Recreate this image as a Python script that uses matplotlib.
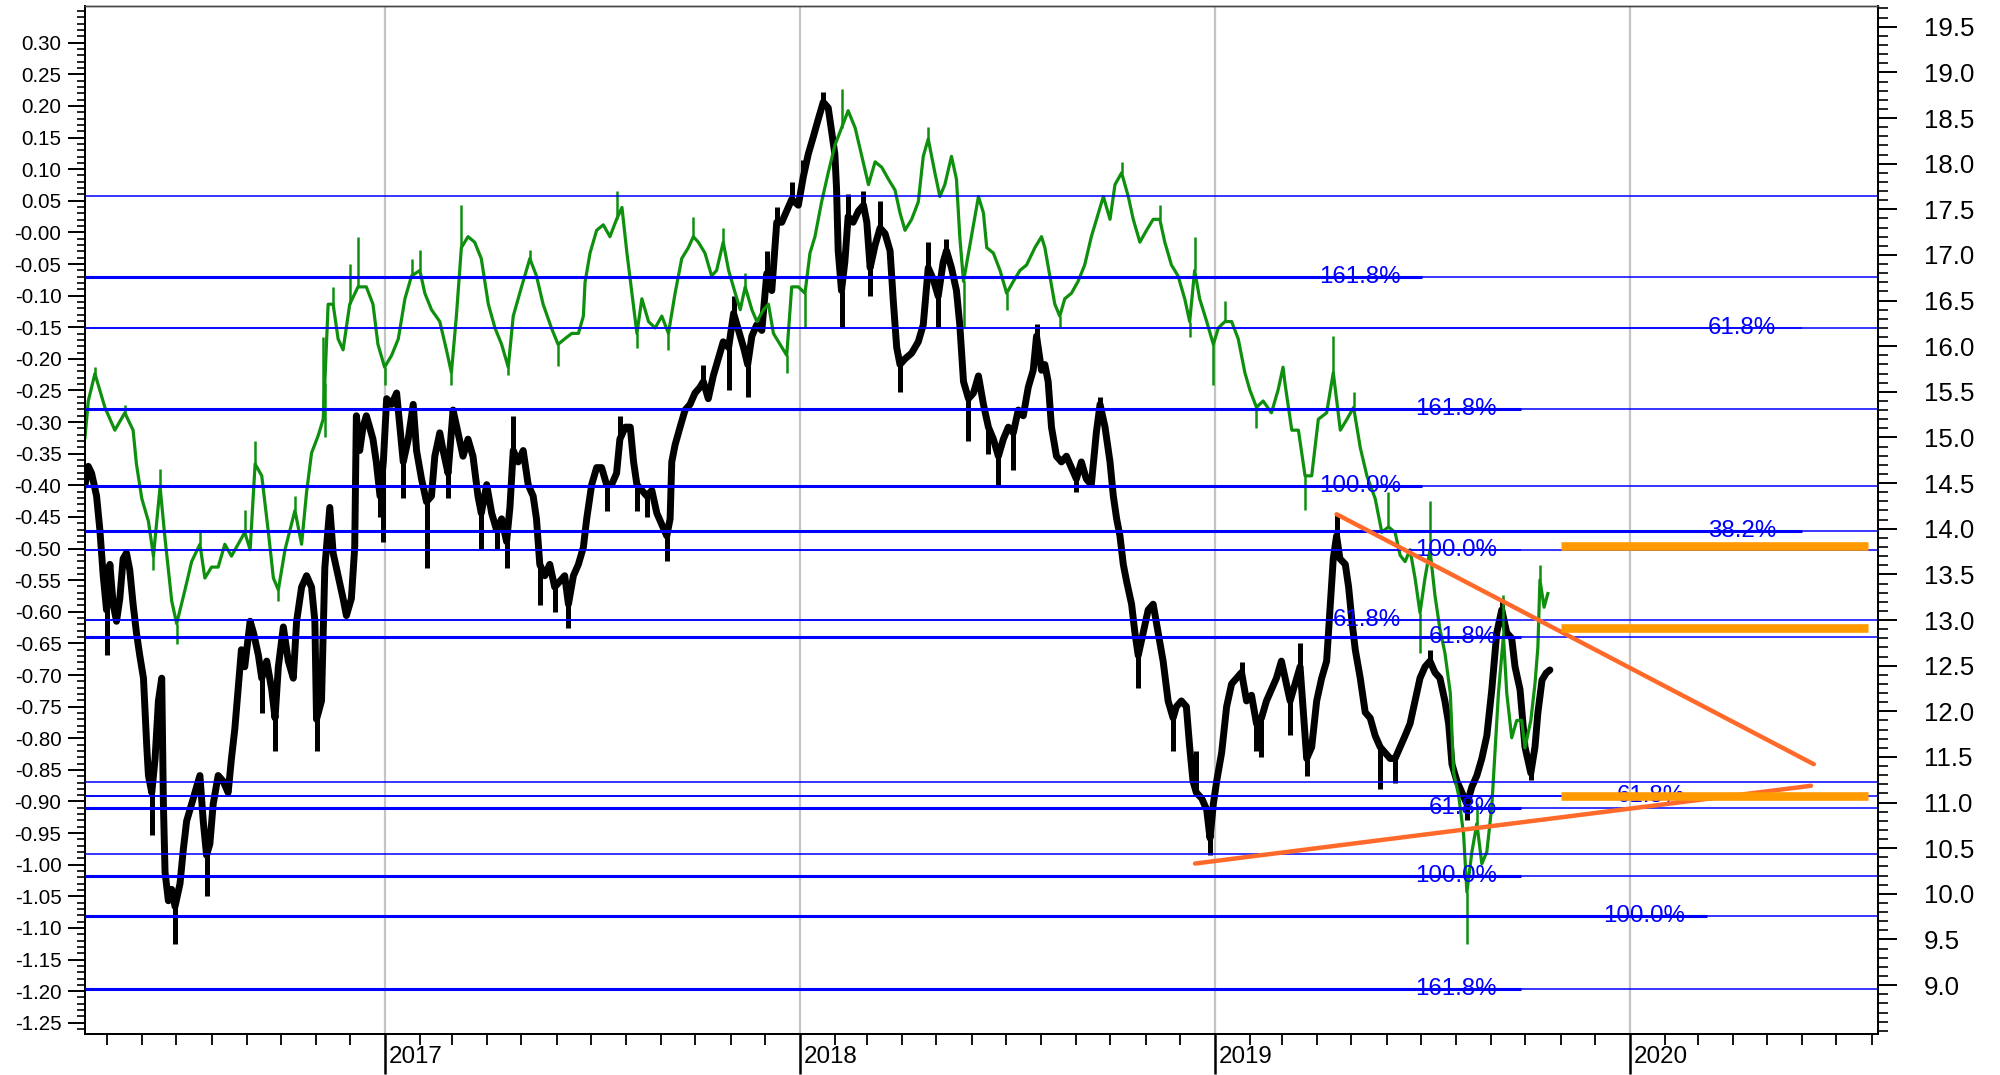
import datetime as dt
import numpy as np
import matplotlib
matplotlib.use("Agg")
import matplotlib.pyplot as plt
from matplotlib.ticker import FixedLocator, MultipleLocator, NullFormatter

plt.rcParams['font.family'] = ['Liberation Sans', 'DejaVu Sans']

# ---------------- data (time in decimal years) ----------------
# black series, left axis
black_t = [2016.277, 2016.285, 2016.293, 2016.305, 2016.313, 2016.321, 2016.329, 2016.337, 2016.345, 2016.353,
           2016.361, 2016.369, 2016.377, 2016.385, 2016.393, 2016.401, 2016.409, 2016.418, 2016.422, 2016.426,
           2016.430, 2016.438, 2016.446, 2016.454, 2016.462, 2016.466, 2016.470, 2016.478, 2016.486, 2016.494,
           2016.506, 2016.514, 2016.522, 2016.534, 2016.546, 2016.554, 2016.562, 2016.570, 2016.578, 2016.586,
           2016.598, 2016.610, 2016.622, 2016.630, 2016.638, 2016.646, 2016.654, 2016.662, 2016.675, 2016.683,
           2016.695, 2016.703, 2016.715, 2016.727, 2016.735, 2016.743, 2016.755, 2016.767, 2016.779, 2016.787,
           2016.799, 2016.811, 2016.823, 2016.831, 2016.835, 2016.847,
           2016.855, 2016.867, 2016.875, 2016.887, 2016.899, 2016.907, 2016.919, 2016.927, 2016.931, 2016.939,
           2016.947, 2016.955, 2016.963, 2016.971, 2016.979, 2016.988, 2016.996, 2017.004, 2017.016, 2017.028,
           2017.036, 2017.044, 2017.056, 2017.068, 2017.076, 2017.088, 2017.100, 2017.112, 2017.120, 2017.132,
           2017.140, 2017.152, 2017.164, 2017.176, 2017.188, 2017.200, 2017.212, 2017.224, 2017.232, 2017.245,
           2017.257, 2017.269, 2017.281, 2017.293, 2017.301, 2017.309, 2017.321, 2017.333, 2017.345, 2017.357,
           2017.365, 2017.373, 2017.385, 2017.397, 2017.409, 2017.421, 2017.433,
           2017.442, 2017.454, 2017.466, 2017.478, 2017.486, 2017.498, 2017.510, 2017.522, 2017.534, 2017.546,
           2017.558, 2017.566, 2017.579, 2017.591, 2017.599, 2017.607, 2017.619, 2017.631, 2017.643, 2017.655,
           2017.667, 2017.679, 2017.687, 2017.691, 2017.699, 2017.711, 2017.723, 2017.735, 2017.747, 2017.759,
           2017.767, 2017.779, 2017.791, 2017.803, 2017.815, 2017.828, 2017.840, 2017.852, 2017.864, 2017.874,
           2017.884, 2017.896, 2017.908, 2017.920, 2017.932, 2017.944, 2017.956, 2017.968, 2017.980, 2017.996,
           2018.008,
           2018.020, 2018.032, 2018.044, 2018.056, 2018.068, 2018.076, 2018.084, 2018.088, 2018.092, 2018.100,
           2018.108, 2018.116, 2018.128, 2018.141, 2018.153, 2018.161, 2018.169, 2018.181, 2018.193, 2018.205,
           2018.217, 2018.225, 2018.233, 2018.241, 2018.253, 2018.269, 2018.285, 2018.297, 2018.309, 2018.321,
           2018.333, 2018.345, 2018.353, 2018.365, 2018.377, 2018.385, 2018.394, 2018.406, 2018.418, 2018.430,
           2018.442, 2018.454, 2018.466, 2018.478, 2018.490, 2018.502, 2018.514, 2018.526, 2018.538, 2018.550,
           2018.562, 2018.570, 2018.582,
           2018.590, 2018.598, 2018.606, 2018.618, 2018.630, 2018.642, 2018.654, 2018.666, 2018.678, 2018.690,
           2018.702, 2018.714, 2018.723, 2018.735, 2018.747, 2018.755, 2018.763, 2018.771, 2018.779, 2018.787,
           2018.799, 2018.807, 2018.815, 2018.827, 2018.839, 2018.851, 2018.863, 2018.875, 2018.887, 2018.899,
           2018.907, 2018.919, 2018.931, 2018.939, 2018.947, 2018.955, 2018.968, 2018.980, 2018.988, 2018.996,
           2019.004, 2019.016, 2019.028, 2019.040, 2019.052, 2019.064, 2019.076, 2019.088, 2019.100, 2019.112,
           2019.124, 2019.136, 2019.148, 2019.160,
           2019.169, 2019.181, 2019.193, 2019.205, 2019.213, 2019.221, 2019.233, 2019.245, 2019.257, 2019.269,
           2019.277, 2019.285, 2019.293, 2019.301, 2019.314, 2019.322, 2019.330, 2019.338, 2019.350, 2019.362,
           2019.374, 2019.386, 2019.398, 2019.410, 2019.422, 2019.434, 2019.446, 2019.458, 2019.470, 2019.482,
           2019.494, 2019.506, 2019.518, 2019.530, 2019.542, 2019.554, 2019.563, 2019.571, 2019.583, 2019.595,
           2019.607, 2019.619, 2019.631, 2019.643, 2019.655, 2019.667, 2019.679, 2019.691, 2019.703, 2019.715,
           2019.723, 2019.735, 2019.747, 2019.761, 2019.771, 2019.778, 2019.788, 2019.798, 2019.807]
black_v = [-0.400, -0.370, -0.381, -0.417, -0.471, -0.543, -0.597, -0.525, -0.588, -0.615,
           -0.579, -0.516, -0.507, -0.534, -0.588, -0.633, -0.669, -0.705, -0.760, -0.814,
           -0.859, -0.886, -0.832, -0.741, -0.705, -0.904, -1.012, -1.057, -1.039, -1.066,
           -1.030, -0.976, -0.931, -0.904, -0.877, -0.859, -0.931, -0.985, -0.967, -0.904,
           -0.859, -0.868, -0.886, -0.832, -0.786, -0.723, -0.660, -0.687, -0.615, -0.633,
           -0.669, -0.705, -0.678, -0.723, -0.768, -0.687, -0.624, -0.678, -0.705, -0.615,
           -0.561, -0.543, -0.561, -0.615, -0.770, -0.741,
           -0.530, -0.435, -0.507, -0.543, -0.579, -0.606, -0.579, -0.498, -0.290, -0.345,
           -0.308, -0.290, -0.308, -0.327, -0.363, -0.417, -0.363, -0.263, -0.272, -0.254,
           -0.308, -0.363, -0.327, -0.272, -0.345, -0.390, -0.426, -0.417, -0.354, -0.317,
           -0.345, -0.381, -0.281, -0.317, -0.354, -0.327, -0.354, -0.417, -0.444, -0.399,
           -0.444, -0.471, -0.453, -0.489, -0.435, -0.345, -0.363, -0.345, -0.399, -0.417,
           -0.453, -0.525, -0.543, -0.525, -0.561, -0.552, -0.543,
           -0.588, -0.543, -0.525, -0.498, -0.453, -0.399, -0.372, -0.372, -0.399, -0.399,
           -0.381, -0.327, -0.308, -0.308, -0.363, -0.399, -0.408, -0.417, -0.408, -0.444,
           -0.462, -0.480, -0.453, -0.363, -0.336, -0.308, -0.281, -0.272, -0.254, -0.245,
           -0.236, -0.263, -0.227, -0.200, -0.173, -0.182, -0.128, -0.155, -0.182, -0.209,
           -0.164, -0.146, -0.155, -0.065, -0.092, 0.016, 0.016, 0.034, 0.052, 0.043,
           0.088,
           0.124, 0.151, 0.179, 0.206, 0.197, 0.161, 0.124, 0.070, -0.029, -0.092,
           -0.047, 0.025, 0.016, 0.034, 0.043, 0.016, -0.056, -0.020, 0.007, -0.002,
           -0.029, -0.110, -0.182, -0.209, -0.200, -0.191, -0.173, -0.146, -0.056, -0.074,
           -0.101, -0.047, -0.029, -0.056, -0.092, -0.146, -0.236, -0.263, -0.254, -0.227,
           -0.272, -0.308, -0.327, -0.354, -0.327, -0.308, -0.317, -0.281, -0.290, -0.245,
           -0.218, -0.164, -0.218,
           -0.209, -0.236, -0.308, -0.354, -0.363, -0.354, -0.372, -0.390, -0.363, -0.390,
           -0.399, -0.317, -0.272, -0.308, -0.363, -0.417, -0.453, -0.480, -0.525, -0.552,
           -0.588, -0.633, -0.669, -0.633, -0.597, -0.588, -0.633, -0.678, -0.741, -0.768,
           -0.750, -0.741, -0.750, -0.814, -0.868, -0.886, -0.895, -0.913, -0.958, -0.904,
           -0.868, -0.823, -0.750, -0.714, -0.705, -0.696, -0.741, -0.732, -0.777, -0.768,
           -0.741, -0.723, -0.705, -0.678,
           -0.705, -0.741, -0.714, -0.687, -0.759, -0.832, -0.814, -0.741, -0.705, -0.678,
           -0.597, -0.516, -0.480, -0.516, -0.525, -0.561, -0.615, -0.660, -0.705, -0.759,
           -0.768, -0.796, -0.814, -0.823, -0.832, -0.832, -0.814, -0.796, -0.777, -0.741,
           -0.705, -0.687, -0.678, -0.696, -0.705, -0.741, -0.777, -0.841, -0.868, -0.886,
           -0.904, -0.877, -0.859, -0.832, -0.796, -0.723, -0.633, -0.597, -0.633, -0.642,
           -0.687, -0.723, -0.814, -0.855, -0.814, -0.760, -0.708, -0.697, -0.692]
# black intraperiod extremes (time, value)
black_ext_t = [2016.329, 2016.438, 2016.494, 2016.570, 2016.703, 2016.735, 2016.835, 2016.988, 2016.996,
               2017.044, 2017.100, 2017.152, 2017.232, 2017.269, 2017.293, 2017.309, 2017.373, 2017.409,
               2017.442, 2017.534, 2017.566, 2017.607, 2017.631, 2017.679, 2017.687, 2017.767, 2017.828,
               2017.840, 2017.874, 2017.920, 2017.944, 2017.980, 2018.008, 2018.056, 2018.100, 2018.116,
               2018.153, 2018.169, 2018.193, 2018.241, 2018.309, 2018.333, 2018.353, 2018.385, 2018.406,
               2018.454, 2018.478, 2018.514, 2018.570, 2018.666, 2018.723, 2018.771, 2018.799, 2018.815,
               2018.899, 2018.955, 2018.988, 2019.064, 2019.100, 2019.112, 2019.181, 2019.205, 2019.221,
               2019.293, 2019.398, 2019.434, 2019.518, 2019.607, 2019.691, 2019.761]
black_ext_v = [-0.669, -0.953, -1.125, -1.050, -0.760, -0.820, -0.820, -0.450, -0.490,
               -0.420, -0.530, -0.420, -0.500, -0.500, -0.530, -0.290, -0.590, -0.600,
               -0.625, -0.440, -0.290, -0.440, -0.450, -0.520, -0.420, -0.210, -0.250,
               -0.100, -0.260, -0.030, 0.040, 0.080, 0.115, 0.222, -0.150, 0.060,
               0.065, -0.100, 0.050, -0.253, -0.015, -0.150, -0.010, -0.180, -0.330,
               -0.350, -0.400, -0.375, -0.145, -0.410, -0.260, -0.500, -0.610, -0.720,
               -0.820, -0.820, -0.985, -0.680, -0.820, -0.830, -0.795, -0.650, -0.860,
               -0.445, -0.880, -0.870, -0.660, -0.930, -0.580, -0.866]

# green series, right axis
green_t = [2016.277, 2016.285, 2016.301, 2016.325, 2016.349, 2016.373, 2016.393, 2016.401, 2016.414, 2016.430,
           2016.442, 2016.458, 2016.470, 2016.486, 2016.498, 2016.518, 2016.534, 2016.554, 2016.566, 2016.582,
           2016.598, 2016.614, 2016.630, 2016.646, 2016.662, 2016.675, 2016.687, 2016.703, 2016.719, 2016.731,
           2016.743, 2016.759, 2016.783, 2016.799, 2016.811, 2016.823, 2016.839, 2016.851,
           2016.855, 2016.863, 2016.875, 2016.887, 2016.899, 2016.915, 2016.935, 2016.955, 2016.971, 2016.983,
           2016.999, 2017.016, 2017.032, 2017.048, 2017.064, 2017.084, 2017.096, 2017.112, 2017.132, 2017.148,
           2017.160, 2017.172, 2017.184, 2017.200, 2017.216, 2017.232, 2017.249, 2017.265, 2017.281, 2017.297,
           2017.309, 2017.329, 2017.349, 2017.365, 2017.381, 2017.401, 2017.417, 2017.433,
           2017.450, 2017.466, 2017.478, 2017.482, 2017.494, 2017.510, 2017.526, 2017.542, 2017.558, 2017.571,
           2017.583, 2017.595, 2017.607, 2017.619, 2017.635, 2017.651, 2017.667, 2017.683, 2017.699, 2017.715,
           2017.731, 2017.743, 2017.755, 2017.771, 2017.787, 2017.799, 2017.815, 2017.828, 2017.844, 2017.856,
           2017.868, 2017.884, 2017.896, 2017.912, 2017.924, 2017.936, 2017.952, 2017.968, 2017.980, 2017.996,
           2018.012,
           2018.024, 2018.036, 2018.052, 2018.068, 2018.084, 2018.100, 2018.116, 2018.133, 2018.149, 2018.165,
           2018.181, 2018.197, 2018.213, 2018.229, 2018.241, 2018.253, 2018.269, 2018.285, 2018.297, 2018.309,
           2018.325, 2018.337, 2018.349, 2018.365, 2018.377, 2018.385, 2018.394, 2018.406, 2018.418, 2018.430,
           2018.442, 2018.450, 2018.466, 2018.482, 2018.498, 2018.514, 2018.530, 2018.546, 2018.566, 2018.582,
           2018.590, 2018.602, 2018.614, 2018.626, 2018.638, 2018.654, 2018.670, 2018.686, 2018.702, 2018.719,
           2018.731, 2018.747, 2018.759, 2018.775, 2018.791, 2018.803, 2018.819, 2018.835, 2018.851, 2018.867,
           2018.879, 2018.895, 2018.911, 2018.927, 2018.939, 2018.951, 2018.963, 2018.980, 2018.996, 2019.008,
           2019.024, 2019.040, 2019.056, 2019.072, 2019.084, 2019.100, 2019.116, 2019.136, 2019.152, 2019.164,
           2019.169, 2019.185, 2019.201, 2019.217, 2019.233, 2019.249, 2019.269, 2019.285, 2019.302, 2019.318,
           2019.334, 2019.350, 2019.366, 2019.386, 2019.402, 2019.418, 2019.434, 2019.446, 2019.458, 2019.470,
           2019.482, 2019.494, 2019.506, 2019.518, 2019.530, 2019.542, 2019.554, 2019.567, 2019.575, 2019.587,
           2019.599, 2019.607, 2019.619, 2019.631, 2019.643, 2019.655, 2019.667, 2019.675, 2019.683, 2019.695,
           2019.703, 2019.715, 2019.727, 2019.739, 2019.747, 2019.761, 2019.771, 2019.778, 2019.783, 2019.793,
           2019.802]
green_v = [15.00, 15.40, 15.70, 15.33, 15.08, 15.27, 15.08, 14.71, 14.33, 14.08,
           13.70, 14.46, 13.89, 13.21, 12.96, 13.33, 13.64, 13.83, 13.46, 13.58,
           13.58, 13.83, 13.70, 13.83, 13.96, 13.77, 14.71, 14.58, 13.96, 13.46,
           13.33, 13.77, 14.20, 13.83, 14.40, 14.83, 15.02, 15.20,
           15.60, 16.46, 16.46, 16.08, 15.96, 16.46, 16.65, 16.65, 16.46, 16.02,
           15.77, 15.90, 16.08, 16.52, 16.77, 16.83, 16.58, 16.40, 16.27, 15.96,
           15.71, 16.33, 17.08, 17.20, 17.14, 16.96, 16.46, 16.20, 16.02, 15.77,
           16.33, 16.65, 16.96, 16.77, 16.46, 16.20, 16.02, 16.08,
           16.14, 16.14, 16.33, 16.70, 17.02, 17.27, 17.33, 17.20, 17.39, 17.52,
           17.02, 16.58, 16.14, 16.52, 16.27, 16.20, 16.33, 16.14, 16.58, 16.96,
           17.08, 17.20, 17.14, 17.02, 16.77, 16.83, 17.14, 16.83, 16.58, 16.40,
           16.65, 16.40, 16.27, 16.40, 16.46, 16.14, 16.02, 15.90, 16.65, 16.65,
           16.58,
           17.02, 17.20, 17.58, 17.90, 18.20, 18.39, 18.58, 18.39, 18.08, 17.77,
           18.02, 17.96, 17.83, 17.71, 17.46, 17.27, 17.39, 17.58, 18.08, 18.27,
           17.90, 17.64, 17.77, 18.08, 17.83, 17.20, 16.71, 17.02, 17.33, 17.64,
           17.46, 17.08, 17.02, 16.83, 16.58, 16.71, 16.83, 16.89, 17.08, 17.20,
           17.08, 16.77, 16.46, 16.33, 16.52, 16.58, 16.71, 16.89, 17.20, 17.46,
           17.64, 17.39, 17.77, 17.90, 17.64, 17.39, 17.14, 17.27, 17.39, 17.39,
           17.14, 16.89, 16.77, 16.52, 16.27, 16.83, 16.52, 16.27, 16.02, 16.20,
           16.27, 16.27, 16.08, 15.71, 15.52, 15.33, 15.40, 15.27, 15.52, 15.77,
           15.58, 15.08, 15.08, 14.58, 14.58, 15.20, 15.27, 15.71, 15.08, 15.20,
           15.33, 14.89, 14.58, 14.33, 13.96, 14.02, 13.96, 13.71, 13.64, 13.77,
           13.46, 13.08, 13.46, 13.77, 13.27, 12.90, 12.64, 12.20, 11.33, 11.08,
           10.65, 10.02, 10.46, 10.77, 10.33, 10.46, 10.96, 11.58, 12.20, 12.83,
           12.20, 11.71, 11.90, 11.90, 11.60, 11.90, 12.30, 12.70, 13.44, 13.14,
           13.29]
green_ext_t = [2016.301, 2016.373, 2016.442, 2016.458, 2016.498, 2016.554, 2016.662, 2016.687, 2016.743,
               2016.783, 2016.851, 2016.855, 2016.875, 2016.915, 2016.935, 2016.999, 2017.064, 2017.084,
               2017.160, 2017.184, 2017.297, 2017.349, 2017.417, 2017.558, 2017.607, 2017.683, 2017.743,
               2017.815, 2017.868, 2017.968, 2018.012, 2018.100, 2018.309, 2018.394, 2018.498, 2018.626,
               2018.775, 2018.867, 2018.939, 2018.951, 2018.996, 2019.024, 2019.100, 2019.217, 2019.285,
               2019.334, 2019.418, 2019.494, 2019.518, 2019.607, 2019.631, 2019.695, 2019.783]
green_ext_v = [15.77, 15.36, 13.55, 14.65, 12.74, 13.98, 14.20, 14.96, 13.21,
               14.36, 16.10, 15.00, 16.65, 16.90, 17.20, 15.58, 16.96, 17.05,
               15.58, 17.55, 15.68, 17.05, 15.78, 17.70, 15.98, 15.96, 17.42,
               17.30, 16.80, 15.71, 16.20, 18.82, 18.40, 16.20, 16.40, 16.20,
               18.02, 17.55, 16.10, 17.20, 15.58, 16.50, 15.10, 14.20, 16.11,
               15.50, 14.40, 12.64, 14.30, 9.45, 11.00, 13.27, 13.60]

# horizontal levels (right-axis units)
level_values = [17.645, 16.761, 16.201, 15.307, 14.468, 13.979, 13.770, 13.000,
                12.819, 11.228, 11.071, 10.940, 10.439, 10.191, 9.753, 8.957]

# Fibonacci tools: labels, levels, label anchor time, line end time
fibA_labels = ["161.8%", "100.0%", "61.8%"]
fibA_levels = [16.761, 14.468, 13.000]
fibA_text_t, fibA_end_t = 2019.448, 2019.499
fibB_labels = ["161.8%", "100.0%", "61.8%", "61.8%", "100.0%", "161.8%"]
fibB_levels = [15.307, 13.770, 12.819, 10.940, 10.191, 8.957]
fibB_text_t, fibB_end_t = 2019.680, 2019.737
fibC_labels = ["61.8%", "38.2%"]
fibC_levels = [16.201, 13.979]
fibC_text_t, fibC_end_t = 2020.352, 2020.414
fibD_labels = ["61.8%", "100.0%"]
fibD_levels = [11.071, 9.753]
fibD_text_t, fibD_end_t = 2020.133, 2020.186
thick_levels = [16.761, 15.307, 14.468, 13.979, 12.819, 10.940, 10.191, 9.753, 8.957]

# orange trend lines (time, right-axis value)
trend_down_t = [2019.293, 2020.443]
trend_down_v = [14.159, 11.420]
trend_up_t = [2018.952, 2020.436]
trend_up_v = [10.332, 11.184]
# orange horizontal target bars
bar_levels = [13.814, 12.915, 11.077]
bar_t = [2019.834, 2020.574]

# axis ticks
left_ticks = [0.30, 0.25, 0.20, 0.15, 0.10, 0.05, 0.00, -0.05, -0.10, -0.15, -0.20, -0.25, -0.30,
              -0.35, -0.40, -0.45, -0.50, -0.55, -0.60, -0.65, -0.70, -0.75, -0.80, -0.85, -0.90,
              -0.95, -1.00, -1.05, -1.10, -1.15, -1.20, -1.25]
left_labels = ["0.30", "0.25", "0.20", "0.15", "0.10", "0.05", "-0.00", "-0.05", "-0.10", "-0.15",
               "-0.20", "-0.25", "-0.30", "-0.35", "-0.40", "-0.45", "-0.50", "-0.55", "-0.60",
               "-0.65", "-0.70", "-0.75", "-0.80", "-0.85", "-0.90", "-0.95", "-1.00", "-1.05",
               "-1.10", "-1.15", "-1.20", "-1.25"]
right_ticks = [9.0, 9.5, 10.0, 10.5, 11.0, 11.5, 12.0, 12.5, 13.0, 13.5, 14.0, 14.5, 15.0, 15.5,
               16.0, 16.5, 17.0, 17.5, 18.0, 18.5, 19.0, 19.5]
right_labels = ["9.0", "9.5", "10.0", "10.5", "11.0", "11.5", "12.0", "12.5", "13.0", "13.5", "14.0",
                "14.5", "15.0", "15.5", "16.0", "16.5", "17.0", "17.5", "18.0", "18.5", "19.0", "19.5"]
year_labels = [2017, 2018, 2019, 2020]

# ---------------- figure ----------------
BLUE = '#0000FF'
GREEN = '#0E900E'
ORANGE_LINE = '#FF6A2A'
ORANGE_BAR = '#FF9A00'

fig = plt.figure(figsize=(20, 10.75), dpi=100)
ax = fig.add_axes([0.0425, 0.0381, 0.8965, 0.9563])
ax2 = ax.twinx()

x0, x1 = 2016.2771, 2020.5976
ax.set_xlim(x0, x1)
ax.set_ylim(-1.2678, 0.358)
ax2.set_ylim(8.464, 19.727)

# year gridlines
for y in year_labels:
    ax.axvline(y, color='#C4C4C4', lw=1.6, zorder=0)

# black series
ax.plot(black_t, black_v, color='black', lw=5.0, solid_joinstyle='round', solid_capstyle='round', zorder=2)
base_b = np.interp(black_ext_t, black_t, black_v)
ax.vlines(black_ext_t, base_b, black_ext_v, color='black', lw=3.6, zorder=2)

# green series
ax2.plot(green_t, green_v, color=GREEN, lw=2.3, zorder=2)
base_g = np.interp(green_ext_t, green_t, green_v)
ax2.vlines(green_ext_t, base_g, green_ext_v, color=GREEN, lw=1.8, zorder=2)

# horizontal levels
for lv in level_values:
    ax2.axhline(lv, color=BLUE, lw=1.1, zorder=3)
for labels, levels, tt, te in [(fibA_labels, fibA_levels, fibA_text_t, fibA_end_t),
                               (fibB_labels, fibB_levels, fibB_text_t, fibB_end_t),
                               (fibC_labels, fibC_levels, fibC_text_t, fibC_end_t),
                               (fibD_labels, fibD_levels, fibD_text_t, fibD_end_t)]:
    for lab, lv in zip(labels, levels):
        w = 2.2 if lv in thick_levels else 1.1
        ax2.hlines(lv, x0, te, color=BLUE, lw=w, zorder=3)
        ax2.text(tt, lv, lab, ha='right', va='center', color=BLUE, fontsize=17.4, zorder=4)

# orange
ax2.plot(trend_down_t, trend_down_v, color=ORANGE_LINE, lw=3.2, solid_capstyle='round', zorder=5)
ax2.plot(trend_up_t, trend_up_v, color=ORANGE_LINE, lw=3.2, solid_capstyle='round', zorder=5)
for lv in bar_levels:
    ax2.hlines(lv, bar_t[0], bar_t[1], color=ORANGE_BAR, lw=6.2, zorder=5)

# ticks: left
ax.yaxis.set_major_locator(FixedLocator(left_ticks))
ax.set_yticklabels(left_labels)
ax.yaxis.set_minor_locator(MultipleLocator(0.01))
ax.tick_params(axis='y', which='major', direction='out', length=12, width=1.4, labelsize=14.8, pad=5)
ax.tick_params(axis='y', which='minor', direction='out', length=6, width=1.2)

# ticks: right
ax2.yaxis.set_major_locator(FixedLocator(right_ticks))
ax2.set_yticklabels(right_labels)
ax2.yaxis.set_minor_locator(MultipleLocator(0.1))
ax2.tick_params(axis='y', which='major', direction='out', length=14, width=1.4, labelsize=18.6, pad=19)
ax2.tick_params(axis='y', which='minor', direction='out', length=7, width=1.2)

# ticks: x (years major, months minor)
months = []
for yr in range(2016, 2021):
    ndays = (dt.date(yr + 1, 1, 1) - dt.date(yr, 1, 1)).days
    for m in range(2, 13):
        t = yr + (dt.date(yr, m, 1) - dt.date(yr, 1, 1)).days / ndays
        if x0 < t < x1:
            months.append(t)
ax.xaxis.set_major_locator(FixedLocator(year_labels))
ax.xaxis.set_minor_locator(FixedLocator(months))
ax.xaxis.set_major_formatter(NullFormatter())
ax.tick_params(axis='x', which='major', direction='out', length=29, width=1.8)
ax.tick_params(axis='x', which='minor', direction='out', length=8, width=1.3)
for yr in year_labels:
    ax.annotate(str(yr), xy=(yr, 0), xycoords=('data', 'axes fraction'), xytext=(3, -16.5),
                textcoords='offset points', ha='left', va='center', fontsize=17.4)

for a in (ax, ax2):
    for s in ('left', 'right', 'bottom'):
        a.spines[s].set_color('black')
        a.spines[s].set_linewidth(1.4)
    a.spines['top'].set_color('#444444')
    a.spines['top'].set_linewidth(1.0)

fig.savefig('out.png', dpi=100, facecolor='white')
